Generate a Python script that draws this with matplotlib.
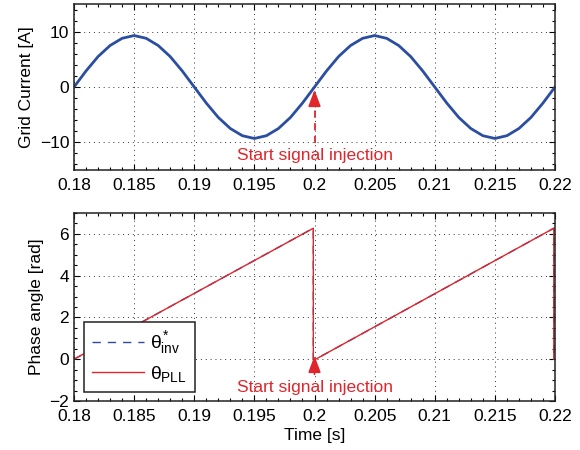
import numpy as np
import matplotlib
matplotlib.use('Agg')
import matplotlib.pyplot as plt
from matplotlib.ticker import MultipleLocator, FuncFormatter

plt.rcParams['font.family'] = ['Liberation Sans', 'DejaVu Sans']
plt.rcParams['font.size'] = 12.5
plt.rcParams['mathtext.fontset'] = 'custom'
plt.rcParams['mathtext.rm'] = 'Liberation Sans'
plt.rcParams['mathtext.it'] = 'Liberation Sans'

# grid current, read every 1 ms
t_current = [0.180, 0.181, 0.182, 0.183, 0.184, 0.185, 0.186, 0.187, 0.188, 0.189,
             0.190, 0.191, 0.192, 0.193, 0.194, 0.195, 0.196, 0.197, 0.198, 0.199,
             0.200, 0.201, 0.202, 0.203, 0.204, 0.205, 0.206, 0.207, 0.208, 0.209,
             0.210, 0.211, 0.212, 0.213, 0.214, 0.215, 0.216, 0.217, 0.218, 0.219,
             0.220]
i_grid = [0.0, 2.9, 5.5, 7.5, 8.8, 9.3, 8.8, 7.5, 5.5, 2.9,
          0.0, -2.9, -5.5, -7.5, -8.8, -9.3, -8.8, -7.5, -5.5, -2.9,
          0.0, 2.9, 5.5, 7.5, 8.8, 9.3, 8.8, 7.5, 5.5, 2.9,
          0.0, -2.9, -5.5, -7.5, -8.8, -9.3, -8.8, -7.5, -5.5, -2.9,
          0.0]

# phase angles (sawtooth)
t_phase = [0.180, 0.1999, 0.1999, 0.2001, 0.2199, 0.2199]
theta_inv = [0.0, 6.27, 0.0, 0.0, 6.27, 0.0]
theta_pll = [0.0, 6.27, 0.0, 0.0, 6.27, 0.0]

xticks = [0.18, 0.185, 0.19, 0.195, 0.2, 0.205, 0.21, 0.215, 0.22]
t_inject = 0.2

blue = '#2b4ea0'
red = '#e0262c'

fig = plt.figure(figsize=(5.8, 4.5), dpi=100)
ax1 = fig.add_axes([0.1276, 0.6222, 0.8293, 0.3689])
ax2 = fig.add_axes([0.1276, 0.1089, 0.8293, 0.4178])

fmt = FuncFormatter(lambda v, p: '%g' % round(v, 4))


def style(ax):
    ax.set_xlim(0.18, 0.22)
    ax.set_xticks(xticks)
    ax.xaxis.set_major_formatter(fmt)
    ax.xaxis.set_minor_locator(MultipleLocator(0.001))
    ax.tick_params(which='both', direction='in', top=True, right=True, labelsize=12.5)
    ax.tick_params(axis='x', which='major', pad=6)
    ax.tick_params(which='major', length=4, width=0.8)
    ax.tick_params(which='minor', length=2.5, width=0.8)
    ax.grid(True, which='major', linestyle=(0, (1, 4)), color='#333333', linewidth=0.7)
    for s in ax.spines.values():
        s.set_linewidth(1.1)
        s.set_color('#222222')


# top: grid current
ax1.plot(t_current, i_grid, color=blue, linewidth=2.0)
ax1.set_ylim(-15, 15)
ax1.set_yticks([-10, 0, 10])
ax1.yaxis.set_minor_locator(MultipleLocator(2))
ax1.set_ylabel('Grid Current [A]')
style(ax1)
ax1.plot([t_inject, t_inject], [-10.2, -2.5], color=red, linewidth=1.3, linestyle=(0, (4, 3)))
ax1.annotate('', xy=(t_inject, 0), xytext=(t_inject, -2.6),
             arrowprops=dict(arrowstyle='-|>,head_length=0.8,head_width=0.3', color=red, lw=1.3))
ax1.text(t_inject, -12.3, 'Start signal injection', color=red, ha='center', va='center')

# bottom: phase angle
ax2.plot(t_phase, theta_inv, color=blue, linewidth=1.0, linestyle=(0, (6, 5)),
         label=r'$\theta^{*}_{\mathrm{inv}}$')
ax2.plot(t_phase, theta_pll, color=red, linewidth=1.0, label=r'$\theta_{\mathrm{PLL}}$')
ax2.set_ylim(-2, 7)
ax2.set_yticks([-2, 0, 2, 4, 6])
ax2.yaxis.set_minor_locator(MultipleLocator(0.5))
ax2.set_ylabel('Phase angle [rad]')
ax2.set_xlabel('Time [s]', labelpad=3)
style(ax2)
ax2.annotate('', xy=(t_inject, 0.3), xytext=(t_inject, -0.85),
             arrowprops=dict(arrowstyle='-|>,head_length=0.8,head_width=0.3', color=red, lw=1.3))
ax2.text(t_inject, -1.35, 'Start signal injection', color=red, ha='center', va='center')

leg = ax2.legend(loc='lower left', bbox_to_anchor=(0.021, 0.048), borderaxespad=0,
                 fontsize=14, handlelength=2.7, fancybox=False, framealpha=1,
                 edgecolor='#222222', borderpad=0.4, labelspacing=0.4, handletextpad=0.3)
leg.get_frame().set_linewidth(1.1)

fig.savefig('out.png', dpi=100)
